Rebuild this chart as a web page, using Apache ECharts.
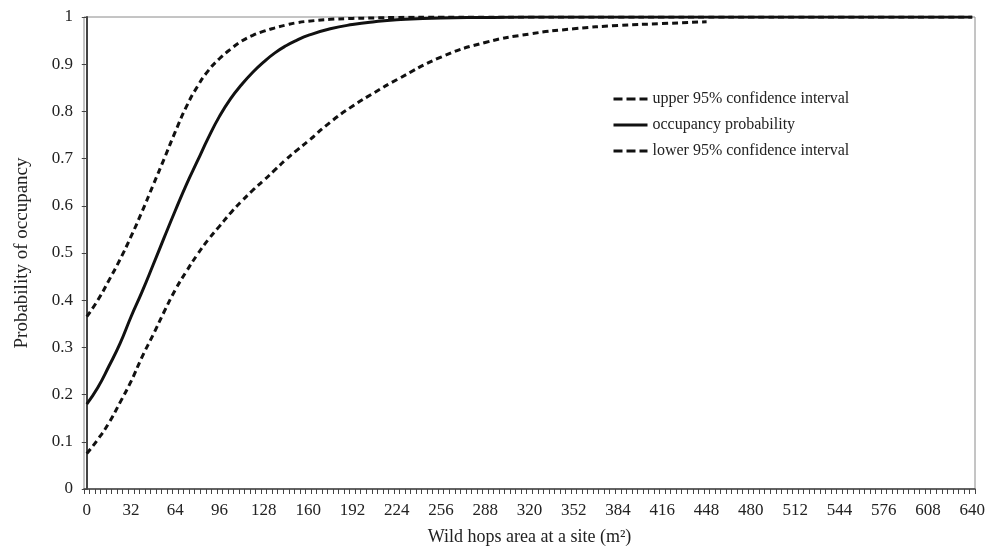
<!DOCTYPE html>
<html>
<head>
<meta charset="utf-8">
<script src="https://cdn.jsdelivr.net/npm/echarts@6/dist/echarts.min.js"></script>
<style>
  html, body { margin: 0; padding: 0; background: #fff; }
  #chart { width: 998px; height: 551px; }
</style>
</head>
<body>
<div id="chart"></div>
<script>
var areaX = [0, 8, 16, 24, 32, 40, 48, 56, 64, 72, 80, 88, 96, 104, 112, 120, 128, 136, 144, 152, 160, 176, 192, 208, 224, 256, 288, 320, 352, 384, 416, 448, 480, 512, 544, 576, 608, 640];
var occupancy = [0.18, 0.215, 0.26, 0.308, 0.365, 0.418, 0.475, 0.533, 0.59, 0.645, 0.695, 0.745, 0.79, 0.827, 0.857, 0.883, 0.905, 0.924, 0.939, 0.951, 0.961, 0.975, 0.984, 0.99, 0.994, 0.998, 0.999, 1, 1, 1, 1, 1, 1, 1, 1, 1, 1, 1];
var upperCI = [0.365, 0.4, 0.442, 0.486, 0.535, 0.588, 0.644, 0.7, 0.757, 0.81, 0.853, 0.887, 0.912, 0.932, 0.949, 0.961, 0.97, 0.977, 0.983, 0.988, 0.991, 0.995, 0.997, 0.998, 0.999, 1, 1, 1, 1, 1, 1, 1, 1, 1, 1, 1, 1, 1];
var lowerCI = [0.075, 0.105, 0.14, 0.183, 0.228, 0.28, 0.327, 0.376, 0.422, 0.461, 0.497, 0.529, 0.557, 0.585, 0.61, 0.633, 0.654, 0.676, 0.698, 0.718, 0.737, 0.777, 0.811, 0.84, 0.867, 0.915, 0.946, 0.964, 0.975, 0.982, 0.986, 0.99, null, null, null, null, null, null];
var xTickLabels = [0, 32, 64, 96, 128, 160, 192, 224, 256, 288, 320, 352, 384, 416, 448, 480, 512, 544, 576, 608, 640];
var yTickLabels = [0, 0.1, 0.2, 0.3, 0.4, 0.5, 0.6, 0.7, 0.8, 0.9, 1];

function pairs(ys) {
    var out = [];
    for (var i = 0; i < areaX.length; i++) {
        if (ys[i] !== null) out.push([areaX[i], ys[i]]);
    }
    return out;
}

// small ticks sit between the 4 m2 categories of the original sheet
var xTicks = [];
for (var t = -2; t <= 642; t += 4) xTicks.push(t);

var font = 'Liberation Serif';
var dash = [6, 4];

var chart = echarts.init(document.getElementById('chart'));
chart.setOption({
    animation: false,
    textStyle: { fontFamily: font, color: '#222' },
    grid: {
        left: 84, right: 23, top: 17, bottom: 61,
        show: true, borderColor: '#8a8a8a', borderWidth: 1,
        containLabel: false
    },
    legend: {
        orient: 'vertical',
        left: 607, top: 86,
        itemWidth: 34, itemHeight: 14, itemGap: 10,
        itemStyle: { opacity: 0 },
        textStyle: { fontFamily: font, fontSize: 16, color: '#222' },
        data: [
            { name: 'upper 95% confidence interval', lineStyle: { width: 3, type: [9, 4] } },
            { name: 'occupancy probability', lineStyle: { width: 3 } },
            { name: 'lower 95% confidence interval', lineStyle: { width: 3, type: [9, 4] } }
        ]
    },
    xAxis: {
        type: 'value',
        min: -2, max: 642,
        name: 'Wild hops area at a site (m\u00b2)',
        nameLocation: 'middle', nameGap: 39,
        nameTextStyle: { fontFamily: font, fontSize: 18, color: '#222' },
        axisLine: { lineStyle: { color: '#444', width: 1.5 } },
        axisTick: { show: true, customValues: xTicks, length: 5, inside: false, lineStyle: { color: '#444' } },
        axisLabel: { customValues: xTickLabels, fontFamily: font, fontSize: 17, color: '#222', margin: 13 },
        splitLine: { show: false }
    },
    yAxis: {
        type: 'value',
        min: 0, max: 1, interval: 0.1,
        name: 'Probability of occupancy',
        nameLocation: 'middle', nameGap: 52,
        nameTextStyle: { fontFamily: font, fontSize: 19, color: '#222' },
        axisLine: { show: true, lineStyle: { color: '#444', width: 2 } },
        axisTick: { show: true, length: 5, lineStyle: { color: '#444' } },
        axisLabel: {
            customValues: yTickLabels,
            fontFamily: font, fontSize: 17, color: '#222', margin: 11,
            formatter: function (v) { return String(Math.round(v * 10) / 10); }
        },
        splitLine: { show: false }
    },
    series: [
        {
            name: 'upper 95% confidence interval', type: 'line', smooth: 0.5, symbol: 'none',
            data: pairs(upperCI),
            lineStyle: { color: '#111', width: 3, type: dash }, itemStyle: { color: '#111' }
        },
        {
            name: 'occupancy probability', type: 'line', smooth: 0.5, symbol: 'none',
            data: pairs(occupancy),
            lineStyle: { color: '#111', width: 3 }, itemStyle: { color: '#111' }
        },
        {
            name: 'lower 95% confidence interval', type: 'line', smooth: 0.5, symbol: 'none',
            data: pairs(lowerCI),
            lineStyle: { color: '#111', width: 3, type: dash }, itemStyle: { color: '#111' }
        }
    ]
});
</script>
</body>
</html>
